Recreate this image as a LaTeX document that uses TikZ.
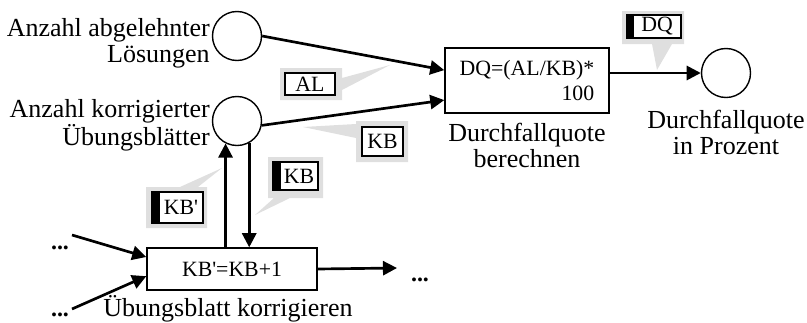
\documentclass[tikz,border=0pt]{standalone}
\usepackage{fontspec}
\setmainfont{Liberation Serif}[Ligatures=TeXOff]
\usetikzlibrary{positioning,arrows.meta}
\newcommand{\capfont}{\fontsize{18.5}{18.5}\selectfont}
\newcommand{\boxfont}{\fontsize{15.5}{17.8}\selectfont}
\colorlet{tag shade}{gray!25}
\tikzset{store/.style={circle, draw, line width=1pt, minimum size=1.225cm, inner sep=0pt},
    process/.style={rectangle, draw, line width=1pt, fill=white, font=\boxfont},
    caption/.style={font=\capfont, inner sep=0pt},
    tag/.style={rectangle, draw, line width=0.8pt, fill=white, inner sep=0pt, font=\boxfont},
    flow/.style={line width=1.9pt, -{Triangle[length=10pt,width=10pt]}},
    more/.style={font=\fontsize{17}{17}\selectfont\bfseries, inner sep=0pt, anchor=base}}

\begin{document}
\begin{tikzpicture}[x=0.025cm, y=-0.025cm]
\useasboundingbox (0,0) rectangle (807,322);
% speech-bubble shades behind the tags
\fill[tag shade] (280,68) -- (342,68) -- (342,78) -- (390,65) -- (342,90) -- (342,100) -- (280,100) -- cycle;
\fill[tag shade] (356,121) -- (408,121) -- (408,162) -- (356,162) -- (356,138) -- (303,127) -- (356,124) -- cycle;
\fill[tag shade] (268,157) -- (323,157) -- (323,198) -- (290,198) -- (255,215) -- (274,198) -- (268,198) -- cycle;
\fill[tag shade] (146,187) -- (180,187) -- (222,168) -- (198,187) -- (207,187) -- (207,228) -- (146,228) -- cycle;
\fill[tag shade] (622,11) -- (684,11) -- (684,44) -- (672,44) -- (657,70) -- (652,44) -- (622,44) -- cycle;

% stores and processes
\node[store] (al) at (237,36) {};
\node[store] (kb) at (237,121) {};
\node[store] (dq) at (726,73) {};
\node[process, minimum width=4.1cm, minimum height=1.625cm, align=right] (calc) at (527,80.5) {DQ=(AL/KB)*\\100};
\node[process, minimum width=4.25cm, minimum height=1.05cm] (mark) at (232,269) {KB'=KB+1};

\node[caption, anchor=north east, align=right] (al-txt) at (210,18) {Anzahl abgelehnter\\Lösungen};
\node[caption, anchor=north east, align=right] (kb-txt) at (210,99) {Anzahl korrigierter\\Übungsblätter};
\node[caption, align=center, below=0.22cm of calc] (calc-txt) {Durchfallquote\\berechnen};
\node[caption, align=center, below=0.3cm of dq] (dq-txt) {Durchfallquote\\in Prozent};
\node[caption, anchor=base] (mark-txt) at (228,316) {Übungsblatt korrigieren};

\node[more] (in1-dots) at (60,249) {...};
\node[more] (in2-dots) at (60,316) {...};
\node[more] (out-dots) at (420,281) {...};
\coordinate (in1) at (72,235);
\coordinate (in2) at (72,309);
\coordinate (out) at (397,268);

% flows
\draw[flow] (al.east) -- ([yshift=0.26cm]calc.west);
\draw[flow] (kb.-10) -- ([yshift=-0.49cm]calc.west);
\draw[flow] (calc.east |- dq) -- (dq);
\draw[flow] (kb.-117 |- mark.north) -- (kb.-117);
\draw[flow] (kb.-61) -- (kb.-61 |- mark.north);
\draw[flow] (in1) -- ([yshift=0.3cm]mark.west);
\draw[flow] (in2) -- ([yshift=-0.18cm]mark.west);
\draw[flow] (mark.east) -- (out);

% tags
\node[tag, minimum width=1.25cm, minimum height=0.55cm] (al-tag) at (310,84) {AL};
\node[tag, minimum width=1.025cm, minimum height=0.725cm] (kb-tag) at (382.5,141.5) {KB};
\node[tag, minimum width=0.95cm, minimum height=0.7cm] (kbin-tag) at (299,176) {KB};
\node[tag, minimum width=1.1cm, minimum height=0.775cm] (kbout-tag) at (181,207.5) {KB'};
\node[tag, minimum width=1.2cm, minimum height=0.575cm] (dq-tag) at (657,26.5) {DQ};
\fill (kbin-tag.north west) rectangle ([xshift=-0.175cm]kbin-tag.south west);
\fill (kbout-tag.north west) rectangle ([xshift=-0.175cm]kbout-tag.south west);
\fill (dq-tag.north west) rectangle ([xshift=-0.15cm]dq-tag.south west);
\end{tikzpicture}
\end{document}
